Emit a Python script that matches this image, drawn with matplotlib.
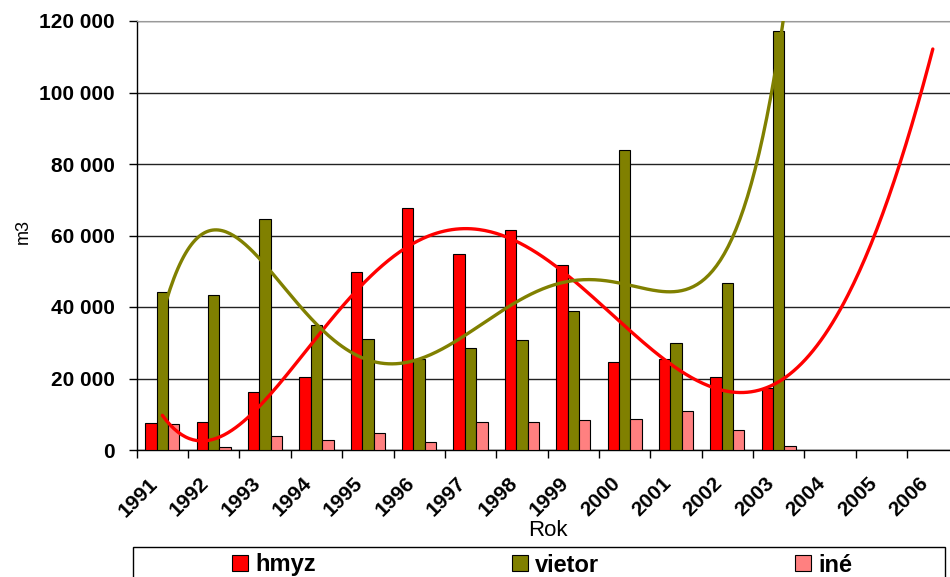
import matplotlib
matplotlib.use('Agg')
import matplotlib.pyplot as plt
import numpy as np
from matplotlib.patches import Rectangle

plt.rcParams['font.family'] = ['Liberation Sans', 'DejaVu Sans']

# Data (m3 per year)
roky = ['1991', '1992', '1993', '1994', '1995', '1996', '1997', '1998',
        '1999', '2000', '2001', '2002', '2003', '2004', '2005', '2006']
hmyz = [7600, 7800, 16300, 20400, 49700, 67600, 54700, 61400,
        51700, 24500, 25500, 20300, 17300]
vietor = [44100, 43400, 64500, 34900, 31100, 25500, 28400, 30700,
          38800, 83800, 29800, 46700, 117200]
ine = [7400, 750, 3900, 2700, 4700, 2100, 7900, 7700,
       8500, 8700, 11000, 5600, 1200]

c_hmyz = '#FF0000'
c_vietor = '#808000'
c_ine = '#FF8080'

fig = plt.figure(figsize=(9.5, 5.77), dpi=100)
ax = fig.add_axes([136.7 / 950, 127 / 577, 821.8 / 950, 429 / 577])

x = np.arange(len(hmyz))
w = 0.222
ax.bar(x - w, hmyz, w, color=c_hmyz, edgecolor='black', linewidth=0.8, label='hmyz', zorder=3)
ax.bar(x, vietor, w, color=c_vietor, edgecolor='black', linewidth=0.8, label='vietor', zorder=3)
ax.bar(x + w, ine, w, color=c_ine, edgecolor='black', linewidth=0.8, label='iné', zorder=3)

# polynomicke trendy (5. stupen) s predpovedou do 2006
xs = np.linspace(0, len(roky) - 1, 400)
p_h = np.polyfit(x, hmyz, 5)
p_v = np.polyfit(x, vietor, 5)
ax.plot(xs, np.polyval(p_h, xs), color=c_hmyz, lw=2.4, zorder=4, solid_capstyle='round')
ax.plot(xs, np.polyval(p_v, xs), color=c_vietor, lw=2.4, zorder=4, solid_capstyle='round')

ax.set_xlim(-0.5, len(roky) - 0.5)
ax.set_ylim(0, 120000)
ax.set_yticks(np.arange(0, 120001, 20000))
ax.set_yticklabels([f'{v:,}'.replace(',', ' ') for v in range(0, 120001, 20000)],
                   fontsize=15, fontweight='bold')
# popisky rokov mierne vlavo od stredu kategorie (ako v Exceli)
ax.set_xticks(np.arange(len(roky)) - 0.15)
ax.set_xticklabels(roky, fontsize=15, fontweight='bold', rotation=45,
                   ha='right', va='center', rotation_mode='anchor')
ax.set_xticks(np.arange(-0.5, len(roky)), minor=True)
ax.tick_params(axis='x', which='major', length=0, pad=22)
ax.tick_params(axis='x', which='minor', length=6, width=1, direction='out')
ax.tick_params(axis='y', length=6, width=1, direction='out', pad=10)

ax.yaxis.grid(True, color='#222222', lw=1)
ax.set_axisbelow(True)
ax.spines['top'].set_color('#999999')
ax.spines['right'].set_visible(False)
for s in ['left', 'bottom']:
    ax.spines[s].set_linewidth(1)

ax.set_ylabel('m3', fontsize=13)
ax.yaxis.set_label_coords(-0.128, 0.51)
ax.set_xlabel('Rok', fontsize=16)
ax.xaxis.set_label_coords(0.5, -0.163)

# ramik legendy
fig.patches.append(Rectangle((133 / 950, -0.05), 812 / 950, 0.05 + 30.3 / 577,
                             transform=fig.transFigure, fill=False,
                             edgecolor='black', lw=1))
fig.legend(loc='center', bbox_to_anchor=(542.5 / 950, 12 / 577), ncol=3,
           frameon=False, prop={'size': 17, 'weight': 'bold'},
           handlelength=0.68, handleheight=0.68, handletextpad=0.3,
           columnspacing=8.3, borderaxespad=0, borderpad=0)

fig.savefig('out.png', dpi=100)
plt.close()
